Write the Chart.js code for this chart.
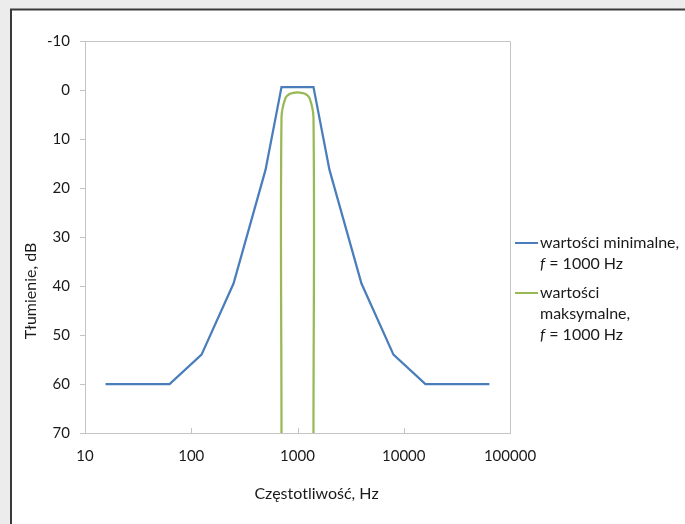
<!DOCTYPE html>
<html>
<head>
<meta charset="utf-8">
<script src="https://cdn.jsdelivr.net/npm/chart.js@4.4.0/dist/chart.umd.min.js"></script>
<style>
  html, body { margin: 0; padding: 0; background: #ececec; }
  canvas { display: block; }
</style>
</head>
<body>
<canvas id="myChart" width="685" height="524"></canvas>
<script>
// minimum attenuation mask (blue)
var minFreq = [15.6, 62.5, 125, 250, 500, 707, 1414, 2000, 4000, 8000, 16000, 64000];
var minAtt = [60, 60, 54, 39.5, 16.3, -0.6, -0.6, 16.3, 39.5, 54, 60, 60];
// maximum attenuation mask (green)
var maxFreq = [707, 707, 771, 841, 917, 1000, 1091, 1189, 1297, 1414, 1414];
var maxAtt = [70, 5.6, 1.6, 0.8, 0.6, 0.5, 0.6, 0.8, 1.6, 5.6, 70];

var xTicks = [10, 100, 1000, 10000, 100000];
var yTicks = [-10, 0, 10, 20, 30, 40, 50, 60, 70];

var seriesNames = [
    ["wartości minimalne,", "f = 1000 Hz"],
    ["wartości", "maksymalne,", "f = 1000 Hz"]
];
var xTitle = "Częstotliwość, Hz";
var yTitle = "Tłumienie, dB";

var blue = '#4a7ebb';
var green = '#98b954';
var axisGray = '#c4c4c4';
var textColor = '#1a1a1a';
var fontName = 'Lato';

function toPoints(xs, ys) {
    return xs.map(function (x, i) { return { x: x, y: ys[i] }; });
}

// italic "f" then the rest
function drawLegendText(ctx, text, x, y) {
    if (text.indexOf('f =') === 0) {
        ctx.font = 'italic 16px ' + fontName;
        ctx.fillText('f', x, y);
        var w = ctx.measureText('f').width;
        ctx.font = '16px ' + fontName;
        ctx.fillText(text.slice(1), x + w, y);
    } else {
        ctx.font = '16px ' + fontName;
        ctx.fillText(text, x, y);
    }
}

var framePlugin = {
    id: 'frame',
    beforeDraw: function (chart) {
        var ctx = chart.ctx;
        ctx.save();
        ctx.fillStyle = '#ececec';
        ctx.fillRect(0, 0, chart.width, chart.height);
        ctx.fillStyle = '#ffffff';
        ctx.fillRect(11, 9.5, chart.width, chart.height);
        ctx.strokeStyle = '#3a3a3a';
        ctx.lineWidth = 2;
        ctx.beginPath();
        ctx.moveTo(11, chart.height);
        ctx.lineTo(11, 9.5);
        ctx.lineTo(chart.width, 9.5);
        ctx.stroke();
        ctx.restore();
    },
    afterDraw: function (chart) {
        var ctx = chart.ctx;
        var a = chart.chartArea;
        var xs = chart.scales.x;
        ctx.save();
        // plot area border (top/right)
        ctx.strokeStyle = axisGray;
        ctx.lineWidth = 1;
        ctx.beginPath();
        ctx.moveTo(a.left, a.top + 0.5);
        ctx.lineTo(a.right + 0.5, a.top + 0.5);
        ctx.lineTo(a.right + 0.5, a.bottom);
        ctx.stroke();
        // inward tick marks on x axis
        ctx.beginPath();
        xTicks.slice(1, -1).forEach(function (v) {
            var px = Math.round(xs.getPixelForValue(v)) + 0.5;
            ctx.moveTo(px, a.bottom);
            ctx.lineTo(px, a.bottom - 5);
        });
        ctx.stroke();

        // axis titles
        ctx.fillStyle = textColor;
        ctx.font = '16px ' + fontName;
        ctx.textAlign = 'center';
        ctx.textBaseline = 'middle';
        ctx.fillText(xTitle, (a.left + a.right) / 2 + 19, a.bottom + 61);
        ctx.save();
        ctx.translate(31, (a.top + a.bottom) / 2 + 54);
        ctx.rotate(-Math.PI / 2);
        ctx.fillText(yTitle, 0, 0);
        ctx.restore();

        // legend
        ctx.textAlign = 'left';
        var colors = [blue, green];
        var y = 243;
        seriesNames.forEach(function (lines, i) {
            ctx.strokeStyle = colors[i];
            ctx.lineWidth = 2;
            ctx.beginPath();
            ctx.moveTo(a.right + 5, y);
            ctx.lineTo(a.right + 28, y);
            ctx.stroke();
            lines.forEach(function (t, j) {
                drawLegendText(ctx, t, a.right + 30, y + j * 21);
            });
            y += lines.length * 21 + 8;
        });
        ctx.restore();
    }
};

var ctx1 = document.getElementById("myChart");
var myChart1 = new Chart(ctx1, {
    type: 'line',
    data: {
        datasets: [
            {
                label: seriesNames[0].join(' '),
                data: toPoints(minFreq, minAtt),
                borderColor: blue,
                borderWidth: 2.25,
                pointRadius: 0,
                tension: 0,
                fill: false
            },
            {
                label: seriesNames[1].join(' '),
                data: toPoints(maxFreq, maxAtt),
                borderColor: green,
                borderWidth: 2.25,
                pointRadius: 0,
                tension: 0.35,
                fill: false
            }
        ]
    },
    options: {
        responsive: false,
        animation: false,
        devicePixelRatio: 1,
        layout: {
            padding: { left: 40, top: 41, right: 175, bottom: 46 }
        },
        plugins: {
            legend: { display: false },
            tooltip: { enabled: false }
        },
        scales: {
            x: {
                type: 'logarithmic',
                min: 10,
                max: 100000,
                afterBuildTicks: function (scale) {
                    scale.ticks = xTicks.map(function (v) { return { value: v }; });
                },
                afterFit: function (scale) { scale.height = 45; },
                ticks: {
                    autoSkip: false,
                    maxRotation: 0,
                    padding: 14,
                    color: textColor,
                    font: { family: fontName, size: 15 },
                    callback: function (v) { return String(v); }
                },
                grid: { drawOnChartArea: false, drawTicks: false, color: axisGray },
                border: { color: axisGray }
            },
            y: {
                reverse: true,
                min: yTicks[0],
                max: yTicks[yTicks.length - 1],
                afterBuildTicks: function (scale) {
                    scale.ticks = yTicks.map(function (v) { return { value: v }; });
                },
                afterFit: function (scale) { scale.width = 45; },
                ticks: {
                    padding: 10,
                    color: textColor,
                    font: { family: fontName, size: 15 }
                },
                grid: { drawOnChartArea: false, drawTicks: true, tickLength: 5, color: axisGray },
                border: { color: axisGray }
            }
        }
    },
    plugins: [framePlugin]
});
</script>
</body>
</html>
